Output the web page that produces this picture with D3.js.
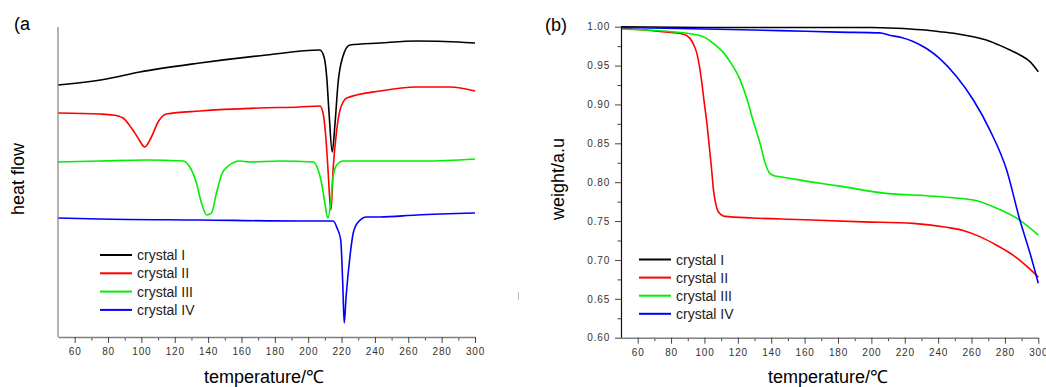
<!DOCTYPE html>
<html>
<head>
<meta charset="utf-8">
<script src="https://cdn.jsdelivr.net/npm/d3@7"></script>
<style>
  body { margin: 0; background: #fff; }
  svg { display: block; font-family: "Liberation Sans", Arial, sans-serif; }
  .tick text { fill: #333; font-size: 10px; letter-spacing: 0.8px; }
</style>
</head>
<body>
<svg id="chart" width="1046" height="387"></svg>
<script>
// ---- data: [temperature, value] ----
const seriesNames = ["crystal I", "crystal II", "crystal III", "crystal IV"];
const seriesColors = ["#000000", "#ff0000", "#00ee00", "#0000ff"];

// DSC (arbitrary heat flow units, endotherm down)
const dscCrystalI = [[50,25.2],[79,25.8],[99,26.5],[135,27.4],[175,28.2],[207,28.7],[209.5,28.0],[211.1,26.0],
  [212.5,22.4],[214.4,18.5],[216.1,21.4],[217.9,25.4],[220.7,28.0],[225,29.2],[243,29.4],[265,29.6],[290,29.5],[300,29.4]];
const dscCrystalII = [[50,22.4],[75,22.3],[83,22.2],[89,21.9],[94,20.9],[98,19.9],[102,19.0],[106,20.0],[110,21.5],
  [115,22.3],[135,22.6],[171,22.9],[195,23.0],[207,23.1],[208.9,22.4],[210.7,19.7],[212,16.4],[213.1,13.4],[213.7,12.7],
  [214.9,16.7],[217.1,20.7],[219.1,22.7],[223.1,23.9],[243,24.6],[265,25.0],[285,25.0],[300,24.6]];
const dscCrystalIII = [[50,17.5],[75,17.6],[103,17.7],[125,17.6],[129,17.0],[133,15.4],[136,13.4],[139.2,12.2],[142,12.4],
  [145,14.4],[148,16.2],[152,17.1],[159,17.6],[165,17.5],[183,17.6],[203,17.5],[206,16.7],[208,15.4],[210,13.4],[211.7,11.9],
  [213.5,13.4],[214.9,16.0],[217.1,17.2],[221,17.6],[243,17.6],[270,17.6],[300,17.8]];
const dscCrystalIV = [[50,11.9],[75,11.8],[135,11.7],[195,11.6],[215,11.6],[217.3,10.9],[219.5,9.7],[220.7,5.4],[221.6,1.4],
  [222.7,4.0],[225,8.0],[227,10.4],[230,11.5],[235,12.0],[243,12.0],[265,12.2],[300,12.4]];

// TGA (normalised weight)
const tgaCrystalI = [[50,1.0],[100,0.999],[150,0.999],[200,0.999],[215,0.998],[230,0.996],[241,0.9936],[251,0.991],
  [261,0.987],[270,0.982],[277,0.976],[284,0.969],[289,0.9636],[295,0.955],[300,0.942]];
const tgaCrystalII = [[50,0.998],[75,0.9936],[87,0.9905],[91.3,0.985],[93.5,0.977],[95.4,0.966],[97.3,0.945],[98.6,0.925],
  [100,0.9],[101.3,0.879],[102.9,0.846],[104.3,0.816],[105.4,0.79],[106.5,0.775],[108.3,0.762],[112.3,0.756],[129,0.754],
  [155,0.752],[195,0.749],[225,0.747],[245,0.742],[255,0.738],[265,0.730],[275,0.719],[285,0.706],[293,0.692],[300,0.678]];
const tgaCrystalIII = [[50,0.997],[89.4,0.9915],[99.3,0.987],[107.3,0.975],[111.3,0.967],[115.3,0.955],[121.3,0.932],
  [125.3,0.908],[129.3,0.878],[133.3,0.85],[136.3,0.825],[139.3,0.811],[142.3,0.808],[145.3,0.807],[169.2,0.7986],
  [181.2,0.795],[207.2,0.786],[237.1,0.782],[261.1,0.777],[275.1,0.7665],[289.1,0.751],[300,0.732]];
const tgaCrystalIV = [[50,0.999],[100,0.997],[145,0.995],[180,0.993],[205,0.992],[211,0.989],[218,0.986],[225,0.981],
  [233,0.972],[241,0.959],[251,0.936],[261,0.906],[271,0.867],[281,0.816],[289,0.751],[295,0.709],[300,0.67]];

const xMajorTicks = d3.range(60, 301, 20);
const xMinorTicks = d3.range(70, 300, 20);
const tgaMajorTicks = d3.range(0.60, 1.001, 0.05);
const tgaMinorTicks = d3.range(0.625, 1.0, 0.05);

const svg = d3.select("#chart");

function bottomAxes(g, x, y0, color) {
  g.append("g").attr("transform", "translate(0," + y0 + ")")
    .call(d3.axisBottom(x).tickValues(xMinorTicks).tickSize(3.5).tickFormat(""))
    .call(a => a.select(".domain").remove())
    .call(a => a.selectAll("line").attr("stroke", "#444"));
  g.append("g").attr("transform", "translate(0," + y0 + ")")
    .call(d3.axisBottom(x).tickValues(xMajorTicks).tickSize(6).tickPadding(5).tickSizeOuter(0))
    .call(a => a.select(".domain").attr("stroke", color).attr("stroke-width", 1.6))
    .call(a => a.selectAll("line").attr("stroke", "#444"));
}

function legend(g, x0, y0, step) {
  seriesNames.forEach((name, i) => {
    g.append("line").attr("x1", x0).attr("x2", x0 + 32)
      .attr("y1", y0 + i * step).attr("y2", y0 + i * step)
      .attr("stroke", seriesColors[i]).attr("stroke-width", 2);
    g.append("text").attr("x", x0 + 37).attr("y", y0 + i * step + 5)
      .attr("font-size", 14).attr("fill", "#222").text(name);
  });
}

function drawLines(g, x, y, data) {
  const line = d3.line().x(d => x(d[0])).y(d => y(d[1])).curve(d3.curveMonotoneX);
  data.forEach((s, i) => {
    g.append("path").datum(s).attr("fill", "none")
      .attr("stroke", seriesColors[i]).attr("stroke-width", 1.6)
      .attr("d", line);
  });
}

// ---- panel (a): DSC ----
const ga = svg.append("g");
const xa = d3.scaleLinear().domain([50, 300]).range([58, 475]);
const ya = d3.scaleLinear().domain([0, 31]).range([337, 27]);

drawLines(ga, xa, ya, [dscCrystalI, dscCrystalII, dscCrystalIII, dscCrystalIV]);

ga.append("line").attr("x1", 58).attr("x2", 58).attr("y1", ya(31)).attr("y2", ya(0))
  .attr("stroke", "#808080").attr("stroke-width", 1.2);
bottomAxes(ga, xa, 337, "#808080");
legend(ga, 100, 255, 18.3);

ga.append("text").attr("x", 14).attr("y", 30).attr("font-size", 18).text("(a");
ga.append("text").attr("transform", "translate(24,179) rotate(-90)")
  .attr("text-anchor", "middle").attr("font-size", 18).text("heat flow");
ga.append("text").attr("x", 264).attr("y", 383).attr("text-anchor", "middle")
  .attr("font-size", 18).text("temperature/℃");
// stray mark in the source figure
ga.append("line").attr("x1", 518.5).attr("x2", 518.5).attr("y1", 292).attr("y2", 300)
  .attr("stroke", "#bbb").attr("stroke-width", 1);

// ---- panel (b): TGA ----
const gb = svg.append("g");
const xb = d3.scaleLinear().domain([50, 300]).range([621, 1038.3]);
const yb = d3.scaleLinear().domain([0.6, 1.0]).range([337.7, 26.7]);

drawLines(gb, xb, yb, [tgaCrystalI, tgaCrystalII, tgaCrystalIII, tgaCrystalIV]);

gb.append("g").attr("transform", "translate(621,0)")
  .call(d3.axisLeft(yb).tickValues(tgaMinorTicks).tickSize(3.5).tickFormat(""))
  .call(a => a.select(".domain").remove())
  .call(a => a.selectAll("line").attr("stroke", "#444"));
gb.append("g").attr("transform", "translate(621,0)")
  .call(d3.axisLeft(yb).tickValues(tgaMajorTicks).tickSize(6).tickPadding(5).tickSizeOuter(0)
    .tickFormat(d3.format(".2f")))
  .call(a => a.select(".domain").attr("stroke", "#111").attr("stroke-width", 1.2))
  .call(a => a.selectAll("line").attr("stroke", "#444"));
bottomAxes(gb, xb, 337.7, "#808080");
legend(gb, 639, 259.5, 18.1);

gb.append("text").attr("x", 545).attr("y", 31).attr("font-size", 18).text("(b)");
gb.append("text").attr("transform", "translate(564,179) rotate(-90)")
  .attr("text-anchor", "middle").attr("font-size", 18).text("weight/a.u");
gb.append("text").attr("x", 828).attr("y", 383).attr("text-anchor", "middle")
  .attr("font-size", 18).text("temperature/℃");
</script>
</body>
</html>
